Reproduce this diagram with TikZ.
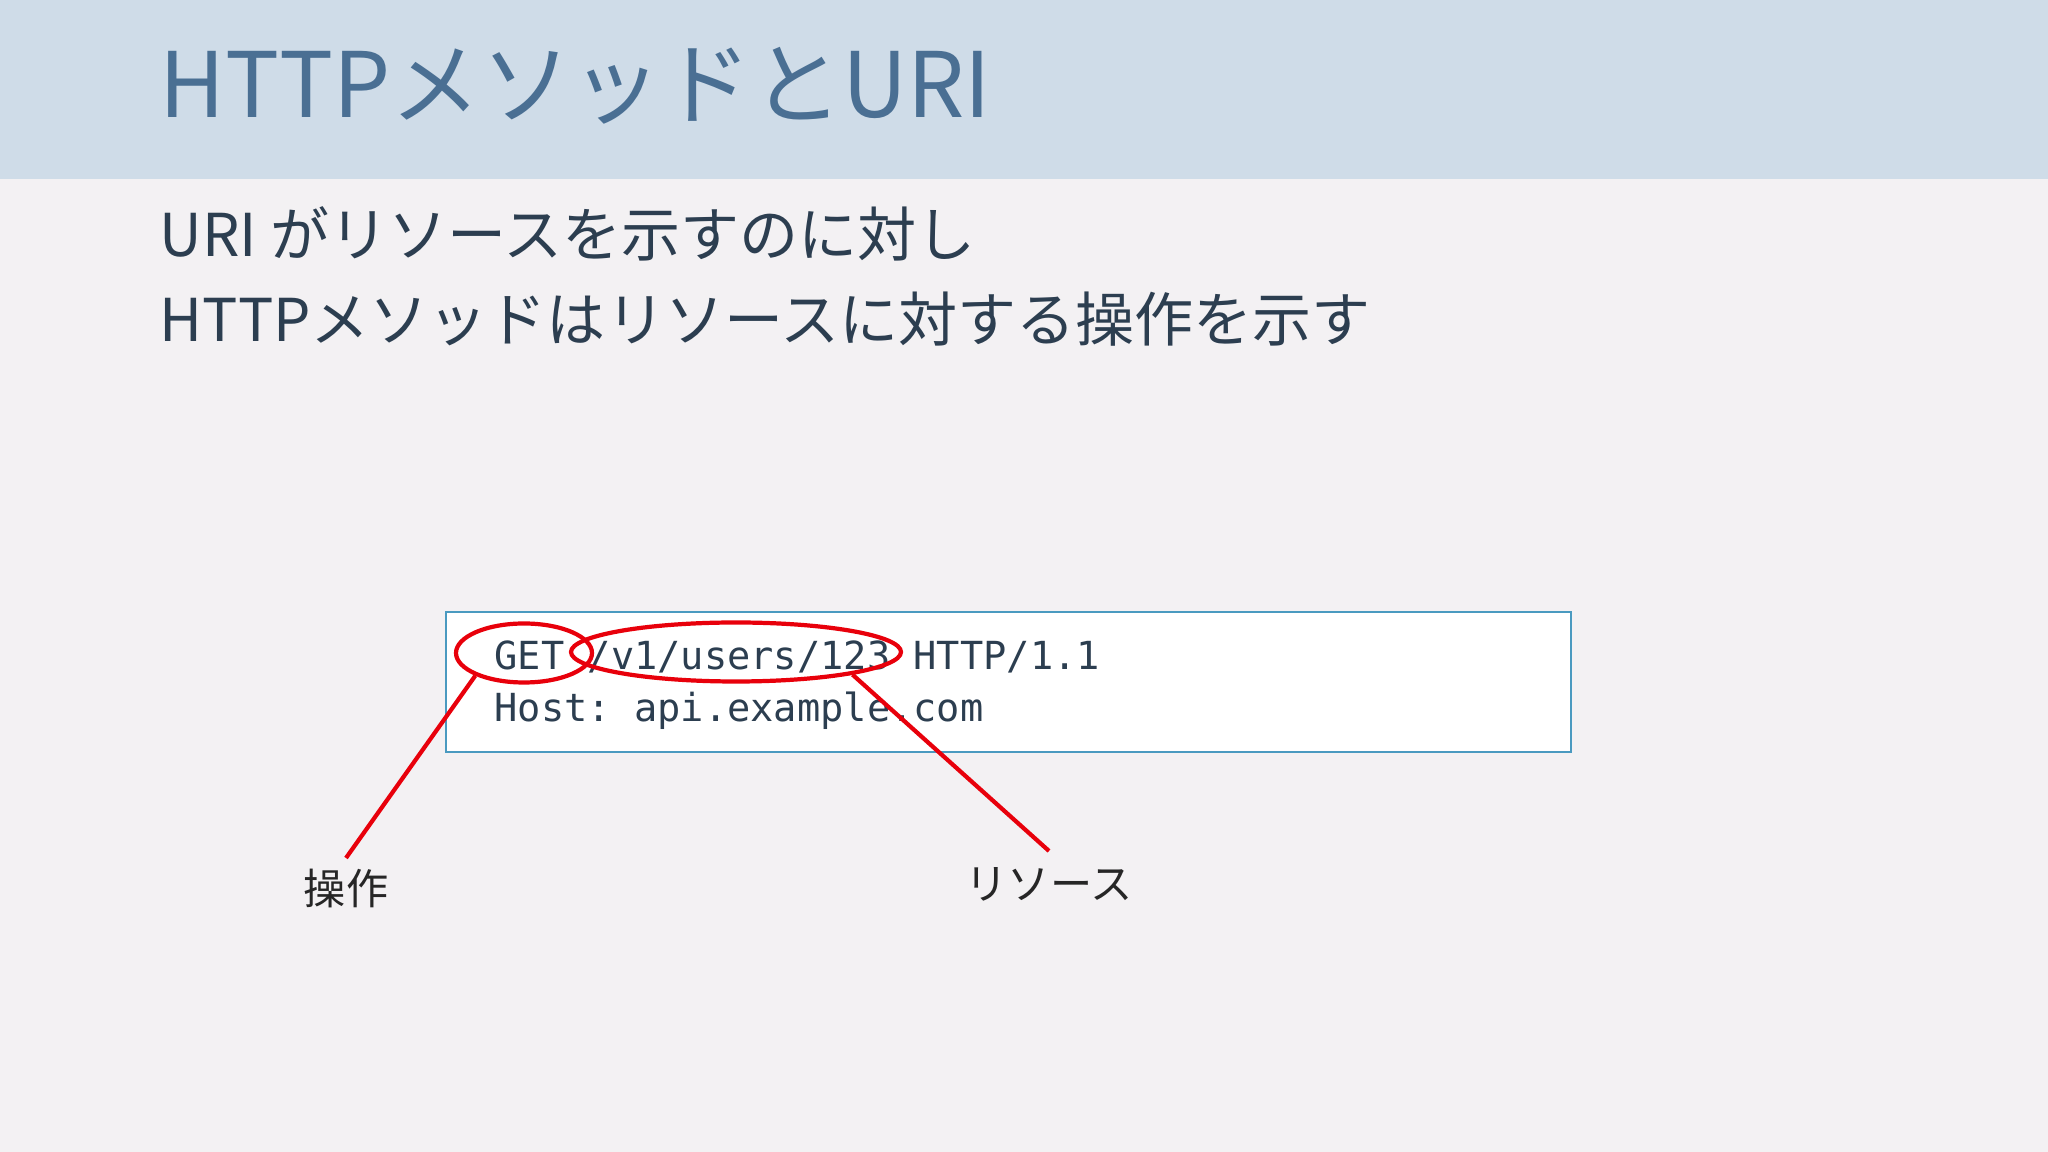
\documentclass[tikz,border=0pt]{standalone}
\usepackage{fontspec}
\setmainfont{Noto Sans CJK JP}
\newfontfamily\codefont{DejaVu Sans Mono}
\usepackage{xcolor}
\usetikzlibrary{shapes.geometric}
\frenchspacing

\definecolor{headbg}{HTML}{CFDCE8}
\definecolor{pagebg}{HTML}{F3F1F3}
\definecolor{titleblue}{HTML}{4A6F93}
\definecolor{inkdark}{HTML}{2C3E50}
\definecolor{boxblue}{HTML}{4A9AC0}
\definecolor{markred}{HTML}{E8000B}

\begin{document}
\begin{tikzpicture}[x = 0.1mm, y = -0.1mm,
	textline/.style = {anchor = base west, inner sep = 0pt, text = inkdark},
	markoval/.style = {draw = markred, line width = 1.2pt, ellipse, inner sep = 0pt},
	callout/.style = {draw = markred, line width = 1.2pt},
	tag/.style = {font = \fontsize{12}{14}\selectfont, anchor = north, inner sep = 3pt, text = black!85}]
	\useasboundingbox (0,0) rectangle (2048,1152);
	\fill [pagebg] (0,0) rectangle (2048,1152);
	\fill [headbg] (0,0) rectangle (2048,179);

	\node [textline, text = titleblue, font = \fontsize{25.7}{30}\selectfont] (title) at (159,118) {HTTPメソッドとURI};

	\begin{scope}[font = \fontsize{16.8}{20}\selectfont]
		\node [textline] (lineone) at (159,257) {URI がリソースを示すのに対し};
		\node [textline] (linetwo) at (159,342) {HTTPメソッドはリソースに対する操作を示す};
	\end{scope}

	\node [draw = boxblue, line width = 0.6pt, fill = white, anchor = north west, minimum width = 11.25cm, minimum height = 1.4cm, inner sep = 0pt] (reqbox) at (445,611) {};

	\begin{scope}[font = \codefont\fontsize{11}{13}\selectfont]
		\node [textline] (getline) at (494,670) {GET /v1/users/123 HTTP/1.1};
		\node [textline] (hostline) at (494,722) {Host: api.example.com};
	\end{scope}

	\node [markoval, minimum width = 1.36cm, minimum height = 0.59cm] (getoval) at (524,653) {};
	\node [markoval, minimum width = 3.30cm, minimum height = 0.59cm] (urioval) at (736,652) {};

	\node [tag] (oplabel) at (346,858) {操作};
	\node [tag, inner ysep = 4.5pt] (reslabel) at (1049,851) {リソース};

	\draw [callout] (getoval.205) -- (oplabel.north);
	\draw [callout] (urioval.349) -- (reslabel.north);
\end{tikzpicture}
\end{document}
